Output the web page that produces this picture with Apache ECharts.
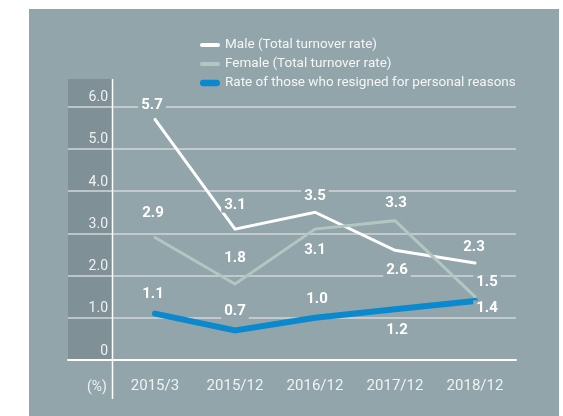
<!DOCTYPE html>
<html>
<head>
<meta charset="utf-8">
<script src="https://cdn.jsdelivr.net/npm/echarts@6/dist/echarts.min.js"></script>
<style>
  html, body { margin: 0; padding: 0; background: #fff; }
  #chart { width: 563px; height: 416px; }
</style>
</head>
<body>
<div id="chart"></div>
<script>
const categories = ['2015/3', '2015/12', '2016/12', '2017/12', '2018/12']
const maleRate = [5.7, 3.1, 3.5, 2.6, 2.3]
const femaleRate = [2.9, 1.8, 3.1, 3.3, 1.5]
const personalRate = [1.1, 0.7, 1.0, 1.2, 1.4]
const yTicks = [0, 1, 2, 3, 4, 5, 6]

// label nudges (px) so the numbers sit like in the original
const maleOffsets = [[-3, -14], [0, -24], [0, -16], [2, 20], [-1, -16]]
const femaleOffsets = [[-2, -24], [0, -26], [0, 21], [1, -17], [12, -14]]
const personalOffsets = [[-2, -19], [0, -19], [2, -19], [2, 21], [12, 7]]

const PANEL = '#92a5aa'
const STRIP = '#7f9196'
const FONT = 'Roboto, "Open Sans", sans-serif'

function points(values, offsets) {
  return values.map((v, i) => ({
    value: [i, v],
    label: { offset: offsets[i] }
  }))
}

function lineSeries(name, values, offsets, color, width) {
  return {
    name: name,
    type: 'line',
    showSymbol: true,
    symbol: 'circle',
    symbolSize: 1,
    itemStyle: { color: color },
    lineStyle: { color: color, width: width, cap: 'round', join: 'miter' },
    label: {
      show: true,
      position: 'inside',
      formatter: p => p.value[1].toFixed(1),
      color: '#fff',
      fontSize: 15,
      fontWeight: 'bold',
      fontFamily: FONT,
      backgroundColor: PANEL,
      padding: [0, 3]
    },
    emphasis: { disabled: true },
    data: points(values, offsets)
  }
}

const chart = echarts.init(document.getElementById('chart'))
chart.setOption({
  backgroundColor: '#fff',
  animation: false,
  graphic: [
    { type: 'rect', z: -30, shape: { x: 29, y: 9, width: 530, height: 407 }, style: { fill: PANEL } },
    { type: 'rect', z: -20, shape: { x: 68, y: 79, width: 44.5, height: 281 }, style: { fill: STRIP } },
    { type: 'line', z: 10, shape: { x1: 112.5, y1: 79, x2: 112.5, y2: 399 }, style: { stroke: '#fff', lineWidth: 1.5 } },
    { type: 'text', x: 97, y: 387, style: { text: '(%)', fill: '#eef1f1', font: '14px ' + FONT, textAlign: 'center', textVerticalAlign: 'middle' } }
  ],
  legend: {
    orient: 'vertical',
    left: 195,
    top: 33,
    itemGap: 5,
    itemWidth: 20,
    itemHeight: 7,
    textStyle: { color: '#f4f6f6', fontSize: 13.5, fontFamily: FONT, lineHeight: 13 },
    data: [
      { name: 'Male (Total turnover rate)', icon: 'path://M2,0H18A2,2 0 0 1 18,4H2A2,2 0 0 1 2,0Z' },
      { name: 'Female (Total turnover rate)', icon: 'path://M2,0H18A2,2 0 0 1 18,4H2A2,2 0 0 1 2,0Z' },
      { name: 'Rate of those who resigned for personal reasons', icon: 'path://M3,0H17A3,3 0 0 1 17,6.5H3A3,3 0 0 1 3,0Z' }
    ]
  },
  grid: { left: 68, right: 47, top: 106.7, bottom: 56 },
  xAxis: {
    type: 'value',
    min: -1.0875,
    max: 4.5125,
    axisLine: { show: true, onZero: true, lineStyle: { color: '#fff', width: 2 } },
    axisTick: { show: false },
    splitLine: { show: false },
    axisLabel: {
      customValues: categories.map((c, i) => i),
      formatter: v => categories[Math.round(v)],
      color: '#f0f3f3',
      fontSize: 15,
      fontFamily: FONT,
      margin: 19
    }
  },
  yAxis: {
    type: 'value',
    min: yTicks[0],
    max: yTicks[yTicks.length - 1],
    interval: 1,
    axisLine: { show: false },
    axisTick: { show: false },
    splitLine: { lineStyle: { color: '#d2d7d8', width: 1.5 } },
    axisLabel: {
      inside: true,
      align: 'right',
      verticalAlign: 'bottom',
      margin: 40,
      padding: [0, 0, 2, 0],
      formatter: v => v === 0 ? '0' : v.toFixed(1),
      color: '#eef1f1',
      fontSize: 14,
      fontFamily: FONT
    }
  },
  series: [
    lineSeries('Male (Total turnover rate)', maleRate, maleOffsets, '#ffffff', 3),
    lineSeries('Female (Total turnover rate)', femaleRate, femaleOffsets, '#b2c7c2', 3),
    lineSeries('Rate of those who resigned for personal reasons', personalRate, personalOffsets, '#0a89cf', 6)
  ]
})
</script>
</body>
</html>
